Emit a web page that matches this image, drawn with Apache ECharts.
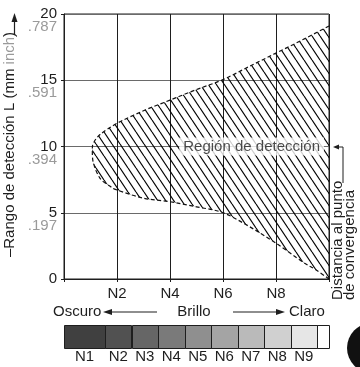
<!DOCTYPE html>
<html><head><meta charset="utf-8">
<script src="https://cdn.jsdelivr.net/npm/echarts@6/dist/echarts.min.js"></script>
<style>html,body{margin:0;padding:0;background:#fff}#c{width:360px;height:367px}</style>
</head><body><div id="c"></div>
<script>
// ---- data ----
const yTickValues = [0, 5, 10, 15, 20];
const yTickMm = ['0', '5', '10', '15', '20'];
const yTickInch = ['', '.197', '.394', '.591', '.787'];
const xTickValues = [2, 4, 6, 8];
const xTickLabels = ['N2', 'N4', 'N6', 'N8'];
const upperCurve = [[1.07,9.75],[1.11,10.25],[1.36,10.9],[2,11.75],[3,12.7],[4,13.5],[5,14.3],[6,15.05],[7,16.05],[8,17.05],[9,18.05],[10,19.1]];
const lowerCurve = [[1.07,9.75],[1.11,8.75],[1.36,7.6],[1.74,7.0],[2,6.72],[3,6.1],[4,5.83],[5,5.45],[6,5.0],[7,3.95],[8,2.7],[9,1.3],[9.5,0.7],[10,0]];
const regionLabel = 'Región de detección';
const regionLabelPos = [7.08, 10];
const scaleNames = ['N1','N2','N3','N4','N5','N6','N7','N8','N9',''];
const scaleBounds = [0, 1.55, 2.55, 3.55, 4.55, 5.55, 6.55, 7.55, 8.55, 9.55, 10];
const yAxisTitle = ['–Rango de detección L (mm ', 'inch', ')'];
const brightnessWords = ['Oscuro', 'Brillo', 'Claro'];
const distanceText = 'Distancia al punto\nde convergencia';

// ---- style ----
const scaleColors = ['#404040','#515151','#666666','#7a7a7a','#8f8f8f','#a4a4a4','#bababa','#d0d0d0','#e6e6e6','#ffffff'];
const FONT = '"Liberation Sans", Arial, Helvetica, sans-serif';
const INK = '#1e1e1e';

function hatchPattern() {
  const c = document.createElement('canvas');
  c.width = 8; c.height = 12;
  const g = c.getContext('2d');
  g.strokeStyle = '#000'; g.lineWidth = 1.15;
  for (const x0 of [-8, 0, 8]) { g.beginPath(); g.moveTo(x0, 0); g.lineTo(x0 + 8, 12); g.stroke(); }
  return c;
}
const pattern = { image: hatchPattern(), repeat: 'repeat' };

function bezierPath(pts) {
  let d = 'M' + pts[0][0] + ' ' + pts[0][1];
  for (let i = 0; i < pts.length - 1; i++) {
    const p0 = pts[i - 1] || pts[i], p1 = pts[i], p2 = pts[i + 1], p3 = pts[i + 2] || p2;
    const c1 = [p1[0] + (p2[0] - p0[0]) / 6, p1[1] + (p2[1] - p0[1]) / 6];
    const c2 = [p2[0] - (p3[0] - p1[0]) / 6, p2[1] - (p3[1] - p1[1]) / 6];
    d += ' C' + c1[0] + ' ' + c1[1] + ' ' + c2[0] + ' ' + c2[1] + ' ' + p2[0] + ' ' + p2[1];
  }
  return d;
}

const chart = echarts.init(document.getElementById('c'), null, { renderer: 'canvas' });

const option = {
  animation: false,
  backgroundColor: '#fff',
  textStyle: { fontFamily: FONT },
  grid: [
    { left: 64, right: 31, top: 14, bottom: 88, containLabel: false, outerBoundsMode: 'none', show: true, borderColor: INK, borderWidth: 1 },
    { left: 64, right: 31, top: 325, height: 23, containLabel: false, outerBoundsMode: 'none' }
  ],
  xAxis: [
    { type: 'value', gridIndex: 0, min: 0, max: 10, interval: 2,
      axisLine: { show: true, lineStyle: { color: INK, width: 1 } },
      axisTick: { show: true, length: 3, lineStyle: { color: INK } },
      axisLabel: { margin: 7, fontSize: 15, color: INK, fontFamily: FONT,
        formatter: v => { const i = xTickValues.indexOf(v); return i >= 0 ? xTickLabels[i] : ''; } },
      splitLine: { show: true, lineStyle: { color: INK, width: 1 } } },
    { type: 'value', gridIndex: 1, min: 0, max: 10, show: false }
  ],
  yAxis: [
    { type: 'value', gridIndex: 0, min: 0, max: 20, interval: 5,
      axisLine: { show: true, lineStyle: { color: INK, width: 1 } },
      axisTick: { show: true, length: 3, lineStyle: { color: INK } },
      axisLabel: { margin: 7, padding: [13, 0, 0, 0],
        formatter: v => { const i = yTickValues.indexOf(v); return '{a|' + yTickMm[i] + '}\n{b|' + (yTickInch[i] || ' ') + '}'; },
        rich: { a: { fontSize: 15, color: INK, lineHeight: 13, fontFamily: FONT },
                b: { fontSize: 15, color: '#9a9a9a', lineHeight: 13, fontFamily: FONT } } },
      splitLine: { show: true, lineStyle: { color: '#6a6a6a', width: 1 } },
      name: '{n|' + yAxisTitle[0] + '}{g|' + yAxisTitle[1] + '}{n|' + yAxisTitle[2] + '}',
      nameLocation: 'middle', nameGap: 42, nameRotate: 90,
      nameTextStyle: { padding: [0, 0, 0, 4],
        rich: { n: { fontSize: 15, color: INK, fontFamily: FONT }, g: { fontSize: 15, color: '#9a9a9a', fontFamily: FONT } } } },
    { type: 'value', gridIndex: 1, min: 0, max: 1, show: false }
  ],
  series: [
    { type: 'custom', xAxisIndex: 0, yAxisIndex: 0, z: 3,
      data: [[0, 0]],
      renderItem: (params, api) => {
        if (params.dataIndex !== 0) return;
        const boundary = upperCurve.slice().reverse().concat(lowerCurve.slice(1));
        const px = boundary.map(p => api.coord(p));
        const d = bezierPath(px);
        return { type: 'group', children: [
          { type: 'path', shape: { pathData: d + ' Z' }, style: { fill: pattern, stroke: null } },
          { type: 'path', shape: { pathData: d }, style: { fill: null, stroke: '#111', lineWidth: 1.2, lineDash: [4, 2.5] } }
        ] };
      } },
    { type: 'scatter', xAxisIndex: 0, yAxisIndex: 0, z: 10, symbolSize: 0, silent: true,
      data: [regionLabelPos],
      label: { show: true, position: 'inside', formatter: regionLabel, fontSize: 15, color: INK, fontFamily: FONT,
        backgroundColor: '#fff', padding: [2, 4, 1, 4] } },
    { type: 'custom', xAxisIndex: 1, yAxisIndex: 1, z: 3,
      data: scaleNames.map((n, i) => [scaleBounds[i], scaleBounds[i + 1]]),
      renderItem: (params, api) => {
        const a = api.coord([api.value(0), 1]);
        const b = api.coord([api.value(1), 0]);
        const i = params.dataIndex;
        return { type: 'group', children: [
          { type: 'rect', shape: { x: Math.round(a[0]) + 0.5, y: Math.round(a[1]) + 0.5, width: Math.round(b[0] - a[0]), height: Math.round(b[1] - a[1]) },
            style: { fill: scaleColors[i], stroke: INK, lineWidth: 1 } },
          { type: 'text', x: (a[0] + b[0]) / 2, y: b[1] + 9,
            style: { text: scaleNames[i], fontSize: 15, fill: INK, fontFamily: FONT, align: 'center', verticalAlign: 'middle' } }
        ] };
      } }
  ],
  graphic: [
    { type: 'line', shape: { x1: 14.5, y1: 34, x2: 14.5, y2: 20 }, style: { stroke: INK, lineWidth: 1.2 } },
    { type: 'polygon', shape: { points: [[14.5, 13], [11.5, 22], [17.5, 22]] }, style: { fill: INK } },
    { type: 'text', x: 53, y: 312, style: { text: brightnessWords[0], fontSize: 15, fill: INK, fontFamily: FONT, align: 'left', verticalAlign: 'middle' } },
    { type: 'line', shape: { x1: 108, y1: 312, x2: 157, y2: 312 }, style: { stroke: INK, lineWidth: 1.2 } },
    { type: 'polygon', shape: { points: [[103, 312], [112, 309], [112, 315]] }, style: { fill: INK } },
    { type: 'text', x: 194, y: 312, style: { text: brightnessWords[1], fontSize: 15, fill: INK, fontFamily: FONT, align: 'center', verticalAlign: 'middle' } },
    { type: 'line', shape: { x1: 233, y1: 312, x2: 280, y2: 312 }, style: { stroke: INK, lineWidth: 1.2 } },
    { type: 'polygon', shape: { points: [[285, 312], [276, 309], [276, 315]] }, style: { fill: INK } },
    { type: 'text', x: 289, y: 312, style: { text: brightnessWords[2], fontSize: 15, fill: INK, fontFamily: FONT, align: 'left', verticalAlign: 'middle' } },
    { type: 'polyline', shape: { points: [[337, 147], [343, 147], [343, 183]] }, style: { stroke: INK, lineWidth: 1, fill: null } },
    { type: 'polygon', shape: { points: [[333, 147], [339, 144.5], [339, 149.5]] }, style: { fill: INK } },
    { type: 'text', x: 344, y: 300, rotation: Math.PI / 2,
      style: { text: distanceText, fontSize: 15, lineHeight: 12, fill: INK, fontFamily: FONT, align: 'left', verticalAlign: 'middle' } },
    { type: 'circle', shape: { cx: 372, cy: 348, r: 25 }, style: { fill: '#111' } }
  ]
};
chart.setOption(option);
</script>
</body></html>
